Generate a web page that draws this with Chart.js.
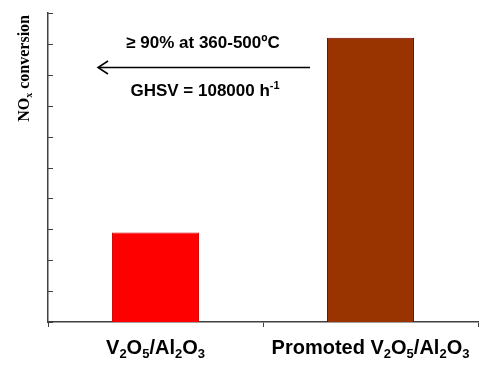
<!DOCTYPE html>
<html><head><meta charset="utf-8">
<script src="https://cdn.jsdelivr.net/npm/chart.js@4/dist/chart.umd.min.js"></script>
<style>html,body{margin:0;padding:0;background:#fff}#wrap{width:500px;height:383px}</style>
</head><body><div id="wrap"><canvas id="c" width="500" height="383"></canvas></div>
<script>
const categories = [
  [["V",""],["2","sub"],["O",""],["5","sub"],["/Al",""],["2","sub"],["O",""],["3","sub"]],
  [["Promoted V",""],["2","sub"],["O",""],["5","sub"],["/Al",""],["2","sub"],["O",""],["3","sub"]]
];
const categoryNames = ["V2O5/Al2O3", "Promoted V2O5/Al2O3"];
const conversion = [29, 92];
const barColors = ["#ff0000", "#993300"];
const barBorders = ["#d00000", "#7a0000"];
const yTitle = [["NO",""],["x","sub"],[" conversion",""]];
const note1 = "≥ 90% at 360-500ºC";
const note2 = [["GHSV = 108000 h",""],["-1","sup"]];

function measureRich(ctx, parts, size, family, ratio) {
  const small = Math.round(size*ratio);
  let w = 0;
  for (const [t, k] of parts) {
    ctx.font = 'bold ' + (k ? small : size) + 'px ' + family;
    w += ctx.measureText(t).width;
  }
  return w;
}
function drawRich(ctx, parts, x, y, size, family, align, ratio) {
  ratio = ratio || 0.62;
  ctx.save();
  ctx.textBaseline = 'middle';
  ctx.textAlign = 'left';
  const small = Math.round(size*ratio);
  const w = measureRich(ctx, parts, size, family, ratio);
  let cx = align === 'center' ? x - w/2 : (align === 'right' ? x - w : x);
  for (const [t, k] of parts) {
    ctx.font = 'bold ' + (k ? small : size) + 'px ' + family;
    const dy = k === 'sub' ? size*0.3 : (k === 'sup' ? -size*0.3 : 0);
    ctx.fillText(t, cx, y + dy);
    cx += ctx.measureText(t).width;
  }
  ctx.restore();
  return w;
}

const extras = {
  id: 'extras',
  afterDraw(chart) {
    const ctx = chart.ctx;
    const xs = chart.scales.x, ys = chart.scales.y;
    ctx.save();
    ctx.fillStyle = '#000';
    ctx.strokeStyle = '#404040';
    ctx.lineWidth = 1;
    ys.ticks.forEach(t => {
      const py = Math.round(ys.getPixelForValue(t.value)) + 0.5;
      ctx.beginPath();
      ctx.moveTo(xs.left, py);
      ctx.lineTo(xs.left + 5, py);
      ctx.stroke();
    });
    const sans = 'Arial, "Liberation Sans", sans-serif';
    categories.forEach((parts, i) => {
      drawRich(ctx, parts, xs.getPixelForTick(i), 348, 20, sans, 'center', 0.65);
    });
    ctx.save();
    ctx.translate(25, 15);
    ctx.rotate(-Math.PI/2);
    ctx.fillStyle = '#000';
    const f = '"Times New Roman", "Liberation Serif", serif';
    drawRich(ctx, yTitle, 0, 0, 16, f, 'right', 0.62);
    ctx.restore();
    ctx.font = 'bold 17px ' + sans;
    ctx.textAlign = 'center';
    ctx.textBaseline = 'middle';
    ctx.fillText(note1, 203, 43);
    drawRich(ctx, note2, 205, 91, 17, sans, 'center', 0.62);
    ctx.strokeStyle = '#000';
    ctx.lineWidth = 1.5;
    ctx.beginPath();
    ctx.moveTo(310, 67.5);
    ctx.lineTo(99, 67.5);
    ctx.stroke();
    ctx.beginPath();
    ctx.moveTo(108, 61);
    ctx.lineTo(98, 67.5);
    ctx.lineTo(108, 74);
    ctx.stroke();
    ctx.restore();
  }
};

new Chart(document.getElementById('c'), {
  type: 'bar',
  data: {
    labels: categoryNames,
    datasets: [{
      data: conversion,
      backgroundColor: barColors,
      borderColor: barBorders,
      borderWidth: 1,
      barPercentage: 0.81,
      categoryPercentage: 0.5
    }]
  },
  options: {
    responsive: false,
    animation: false,
    events: [],
    layout: { padding: { top: 13, right: 22, left: 0, bottom: 0 } },
    plugins: { legend: { display: false }, tooltip: { enabled: false } },
    scales: {
      x: {
        offset: true,
        grid: { display: true, drawOnChartArea: false, offset: true, tickLength: 5, color: '#404040', lineWidth: 1 },
        border: { display: true, color: '#404040', width: 1.5 },
        ticks: { display: true, callback: () => '', font: { size: 1 } },
        afterFit(s) { s.height = 61; }
      },
      y: {
        min: 0, max: 100,
        ticks: { display: false, stepSize: 10 },
        grid: { display: false },
        border: { display: true, color: '#404040', width: 1.5 },
        afterFit(s) { s.width = 48; }
      }
    }
  },
  plugins: [extras]
});
</script>
</body></html>
